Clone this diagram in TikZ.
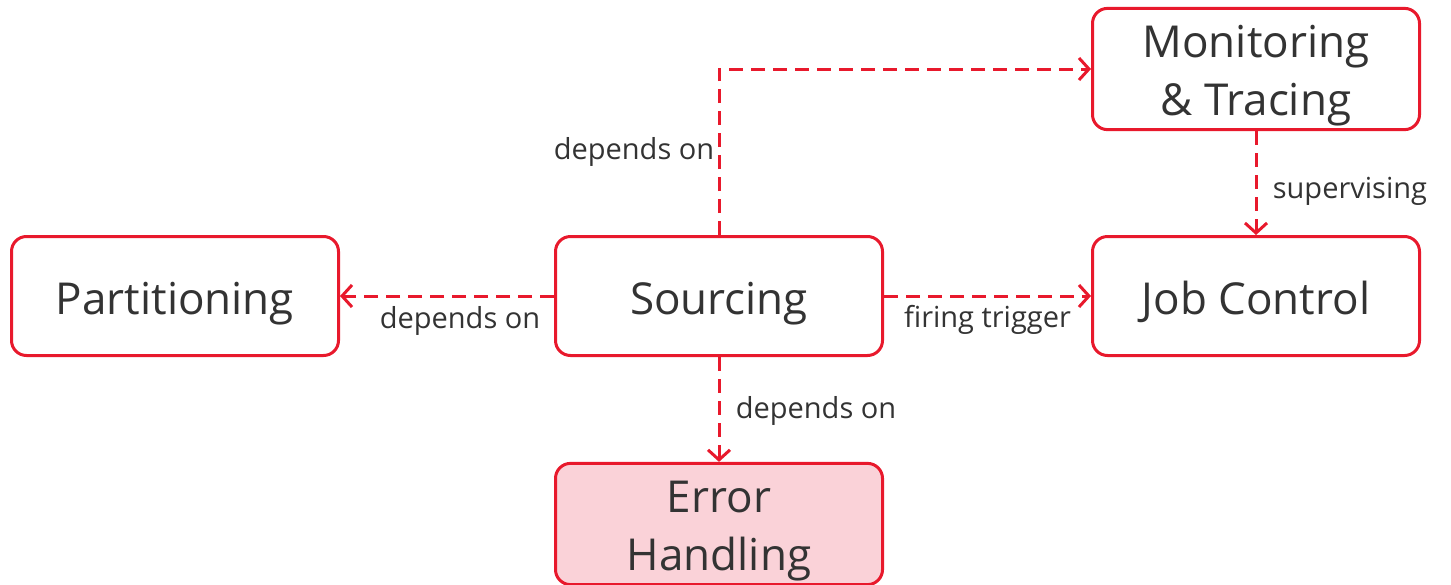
\documentclass[tikz,border=0pt]{standalone}
\usepackage{fontspec}
\setmainfont{Open Sans}
\usepackage{tikz}
\usetikzlibrary{arrows.meta}

\definecolor{boxred}{HTML}{E8192C}
\definecolor{boxfill}{HTML}{FAD2D8}
\definecolor{txtgray}{HTML}{333333}
% taller first line, pushes two-line texts down a bit
\newcommand{\firststrut}{\rule{0pt}{46pt}}

\begin{document}
\begin{tikzpicture}[x=1pt,y=-1pt,
  block/.style={draw=boxred,line width=3pt,rounded corners=15pt,fill=white,
    minimum width=327pt,minimum height=119pt,align=center,text=txtgray,
    font=\fontsize{44}{58}\selectfont},
  oneline/.style={block,text height=48pt,text depth=11pt},
  dep/.style={draw=boxred,line width=3pt,dash pattern=on 14pt off 8pt,
    -{Straight Barb[length=10pt,width=22pt,line width=3pt]}},
  lbl/.style={text=txtgray,font=\fontsize{29}{34}\selectfont}]
\useasboundingbox (0,0) rectangle (1451,584);
% the five parts
\node[oneline] (part) at (175,296) {Partitioning};
\node[oneline] (src)  at (719,296) {Sourcing};
\node[oneline] (job)  at (1256,296) {Job Control};
\node[block] (mon)  at (1256,69) {\firststrut Monitoring\\\& Tracing};
\node[block,fill=boxfill] (err) at (719,524) {\firststrut Error\\Handling};
% dependencies
\draw[dep] (src.north) |- node[lbl,left,pos=0.25] {depends on} (mon.west);
\draw[dep] (mon) -- node[lbl,right,xshift=12pt,yshift=-8pt] {supervising} (job);
\draw[dep] (src) -- node[lbl,below,xshift=13pt,yshift=-6pt] {depends on} (part);
\draw[dep] (src) -- node[lbl,below,yshift=-4pt] {firing trigger} (job);
\draw[dep] (src) -- node[lbl,right,xshift=12pt,yshift=-2pt] {depends on} (err);
\end{tikzpicture}
\end{document}
